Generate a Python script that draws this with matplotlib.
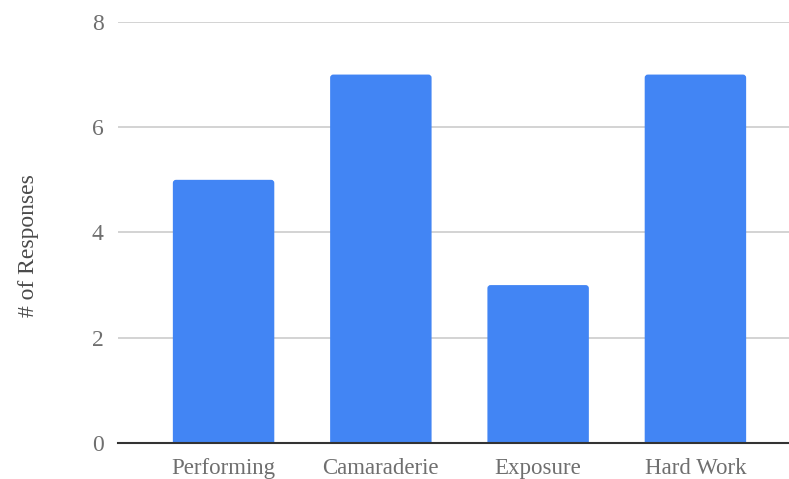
import matplotlib
matplotlib.use("Agg")
import matplotlib.pyplot as plt
from matplotlib.patches import FancyBboxPatch

categories = ["Performing", "Camaraderie", "Exposure", "Hard Work"]
responses = [5, 7, 3, 7]
y_ticks = [0, 2, 4, 6, 8]

BAR_COLOR = "#4285F4"
TEXT_COLOR = "#6f6f6f"
GRID_COLOR = "#cccccc"

plt.rcParams["font.family"] = ["Liberation Serif", "DejaVu Serif"]

fig = plt.figure(figsize=(7.89, 4.79), dpi=100)
ax = fig.add_axes([0.149, 0.0752, 0.851, 0.879])

xlim = (-0.674, 3.595)
ylim = (0, 8)
ax.set_xlim(*xlim)
ax.set_ylim(*ylim)

# data units per pixel, used to keep the corner rounding circular
w_px = 0.851 * 789
h_px = 0.879 * 479
aspect = ((ylim[1] - ylim[0]) / h_px) / ((xlim[1] - xlim[0]) / w_px)

bar_width = 0.645
radius = 0.02
for i, v in enumerate(responses):
    patch = FancyBboxPatch(
        (i - bar_width / 2, -0.2), bar_width, v + 0.2,
        boxstyle=f"round,pad=0,rounding_size={radius}",
        mutation_aspect=aspect,
        facecolor=BAR_COLOR, edgecolor="none", zorder=3,
    )
    ax.add_patch(patch)

ax.set_yticks(y_ticks)
ax.set_xticks(range(len(categories)))
ax.set_xticklabels(categories)
ax.yaxis.grid(True, color=GRID_COLOR, linewidth=1.2, zorder=0)
ax.set_axisbelow(True)

ax.tick_params(axis="both", length=0, labelsize=16.5, colors=TEXT_COLOR)
ax.tick_params(axis="y", pad=10, labelsize=17)
ax.tick_params(axis="x", pad=10.5)

for side in ["top", "right", "left"]:
    ax.spines[side].set_visible(False)
ax.spines["bottom"].set_color("#333333")
ax.spines["bottom"].set_linewidth(1.5)
ax.spines["bottom"].set_zorder(4)

fig.text(0.036, 0.488, "# of Responses", rotation=90, ha="center", va="center",
         fontsize=17, color="#4a4a4a")

fig.savefig("out.png", dpi=100)
